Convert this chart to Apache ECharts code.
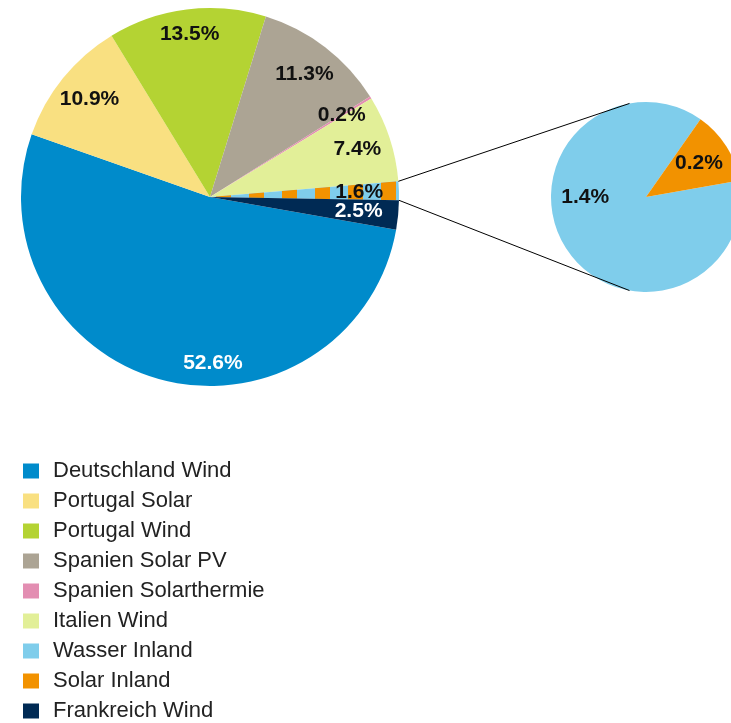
<!DOCTYPE html>
<html><head><meta charset="utf-8">
<script src="https://cdn.jsdelivr.net/npm/echarts@6/dist/echarts.min.js"></script>
<style>html,body{margin:0;padding:0;background:#fff}#c{width:731px;height:723px}</style>
</head><body><div id="c"></div>
<script>
// ---- data ----
const categories = ['Deutschland Wind','Portugal Solar','Portugal Wind','Spanien Solar PV','Spanien Solarthermie','Italien Wind','Wasser Inland','Solar Inland','Frankreich Wind'];
const shares = [52.6, 10.9, 13.5, 11.3, 0.2, 7.4, 1.4, 0.2, 2.5];
const detailNames = ['Wasser Inland','Solar Inland'];
const combinedName = 'Wasser + Solar Inland';

// ---- styles ----
const colors = {
  'Deutschland Wind':'#008bcb','Portugal Solar':'#f9e081','Portugal Wind':'#b4d333',
  'Spanien Solar PV':'#aca494','Spanien Solarthermie':'#e38eb2','Italien Wind':'#e2ef98',
  'Wasser Inland':'#7fcdeb','Solar Inland':'#f29200','Frankreich Wind':'#002a54'
};
const whiteLabels = ['Deutschland Wind','Frankreich Wind'];
const C1 = [210, 197], R1 = 189, START1 = -10;
const C2 = [646, 197], R2 = 95, START2 = 10;
const LABEL_FONT = 'Liberation Sans';

// main pie data (detail slices merged into one striped slice)
const mainData = [];
let combinedVal = 0, combinedIdx = -1;
categories.forEach((n, i) => {
  if (detailNames.includes(n)) {
    if (combinedIdx < 0) { combinedIdx = mainData.length; mainData.push(null); }
    combinedVal += shares[i];
  } else {
    mainData.push({ name: n, value: shares[i], itemStyle: { color: colors[n] } });
  }
});
mainData[combinedIdx] = {
  name: combinedName, value: +combinedVal.toFixed(1),
  itemStyle: { color: colors['Wasser Inland'],
    decal: { symbol: 'rect', symbolSize: 1, color: colors['Solar Inland'], dashArrayX: [1, 0], dashArrayY: [15, 18], rotation: Math.PI / 2 } }
};
const detailData = detailNames.map(n => ({ name: n, value: shares[categories.indexOf(n)], itemStyle: { color: colors[n] } }));

function norm(a) { a = ((a % 360) + 360) % 360; return a > 180 ? a - 360 : a; }
function angles(vals, start) {
  const tot = vals.reduce((a, b) => a + b, 0);
  let a = start; const res = [];
  vals.forEach(v => { const s = v / tot * 360; res.push({ from: a, to: a - s, mid: norm(a - s / 2) }); a -= s; });
  return res;
}
const ang1 = angles(mainData.map(d => d.value), START1);
const ang2 = angles(detailData.map(d => d.value), START2);
function pt(c, r, deg) { const t = deg * Math.PI / 180; return [c[0] + r * Math.cos(t), c[1] - r * Math.sin(t)]; }

function layoutMain(p) {
  const i = p.dataIndex; const a0 = ang1[i].mid;
  let a = a0, r = 0.82 * R1;
  if (mainData[i].value > 50) { a = -89; r = 0.88 * R1; }
  else if (a0 > 80 && a0 < 110) { r = 0.87 * R1; }
  else if (Math.abs(a0) < 8) { r = 0.79 * R1; }
  const q = pt(C1, r, a);
  return { x: q[0], y: q[1], align: 'center', verticalAlign: 'middle' };
}
function layoutDetail(p) {
  const i = p.dataIndex; let a = ang2[i].mid, r = 0.66 * R2;
  if (detailData[i].value / combinedVal > 0.5) { a = 180; r = 0.64 * R2; }
  const q = pt(C2, r, a);
  return { x: q[0], y: q[1], align: 'center', verticalAlign: 'middle' };
}
const labelBase = {
  show: true, position: 'inside', fontFamily: LABEL_FONT, fontWeight: 'bold', fontSize: 21,
  formatter: p => p.value.toFixed(1) + '%',
  color: '#111'
};
mainData.forEach(d => { if (whiteLabels.includes(d.name)) d.label = { color: '#fff' }; });

const cTop = ang1[combinedIdx].from, cBot = ang1[combinedIdx].to;
const lines = [[pt(C1, R1, cTop), pt(C2, R2, 100)], [pt(C1, R1, cBot), pt(C2, R2, -100)]];

const chart = echarts.init(document.getElementById('c'), null, { renderer: 'canvas' });
chart.setOption({
  animation: false,
  backgroundColor: '#fff',
  legend: {
    orient: 'vertical', left: 18, top: 455, height: 400, padding: 5, icon: 'rect', itemWidth: 16, itemHeight: 15, itemGap: 8,
    selectedMode: false, data: categories,
    textStyle: { fontFamily: LABEL_FONT, fontSize: 22, color: '#222', padding: [0, 0, 0, 9] }
  },
  series: [
    { type: 'pie', center: C1, radius: R1, startAngle: START1, clockwise: true, avoidLabelOverlap: false,
      label: labelBase, labelLine: { show: false }, labelLayout: layoutMain, emphasis: { disabled: true },
      itemStyle: { borderWidth: 0 }, data: mainData },
    { type: 'pie', center: C2, radius: R2, startAngle: START2, clockwise: true, avoidLabelOverlap: false,
      label: labelBase, labelLine: { show: false }, labelLayout: layoutDetail, emphasis: { disabled: true },
      itemStyle: { borderWidth: 0 }, data: detailData }
  ],
  graphic: lines.map(l => ({ type: 'line', silent: true, z: 10,
    shape: { x1: l[0][0], y1: l[0][1], x2: l[1][0], y2: l[1][1] }, style: { stroke: '#000', lineWidth: 1 } }))
});
</script></body></html>
